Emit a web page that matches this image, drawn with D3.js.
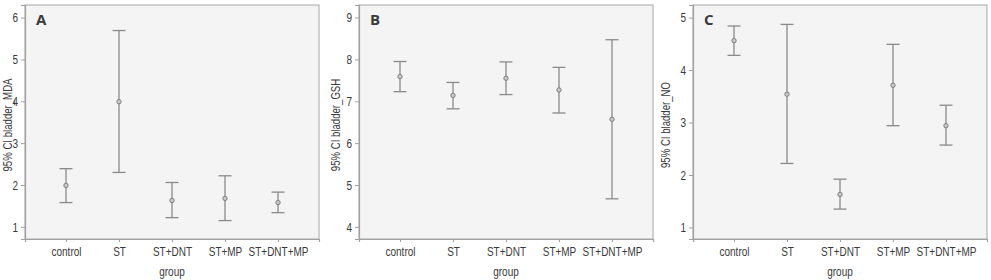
<!DOCTYPE html>
<html><head><meta charset="utf-8">
<script src="https://cdn.jsdelivr.net/npm/d3@7"></script>
<style>
body{margin:0;background:#fff;}
svg{display:block;}
text{font-family:"Liberation Sans",Arial,sans-serif;fill:#3a3a3a;}
</style></head>
<body>
<svg id="c" width="991" height="280"></svg>
<script>
const categories = ["control","ST","ST+DNT","ST+MP","ST+DNT+MP"];

const mdaMean  = [1.99, 3.99, 1.63, 1.68, 1.58];
const mdaLower = [1.58, 2.30, 1.22, 1.15, 1.34];
const mdaUpper = [2.39, 5.69, 2.06, 2.22, 1.83];

const gshMean  = [7.59, 7.14, 7.55, 7.27, 6.57];
const gshLower = [7.23, 6.82, 7.16, 6.72, 4.67];
const gshUpper = [7.95, 7.45, 7.94, 7.81, 8.47];

const noMean   = [4.56, 3.54, 1.63, 3.71, 2.94];
const noLower  = [4.28, 2.22, 1.35, 2.94, 2.57];
const noUpper  = [4.84, 4.87, 1.92, 4.49, 3.33];

const mdaTicks = [1,2,3,4,5,6];
const gshTicks = [4,5,6,7,8,9];
const noTicks  = [1,2,3,4,5];

const panelLetters = ["A","B","C"];
const yLabels = ["95% CI bladder_MDA","95% CI bladder_GSH","95% CI bladder_NO"];
const xLabel = "group";

const panels = [
  {letter:panelLetters[0], ylab:yLabels[0], mean:mdaMean, lo:mdaLower, hi:mdaUpper, ticks:mdaTicks, dom:[0.71,6.30], x0:25, x1:319, ylx:7.5},
  {letter:panelLetters[1], ylab:yLabels[1], mean:gshMean, lo:gshLower, hi:gshUpper, ticks:gshTicks, dom:[3.71,9.30], x0:359, x1:653, ylx:336},
  {letter:panelLetters[2], ylab:yLabels[2], mean:noMean, lo:noLower, hi:noUpper, ticks:noTicks, dom:[0.78,5.24], x0:693, x1:987, ylx:666}
];

const svg = d3.select("#c");
const yTop = 5, yBot = 239;
const barCol = "#8a8a8a";
const FS = 13.5;
const K = 0.74;   // horizontal condensing of the narrow original font
const FF = '"Liberation Sans",Arial,sans-serif';

panels.forEach(p => {
  const g = svg.append("g");
  const x = d3.scalePoint().domain(categories).range([p.x0, p.x1]).padding(0.7736);
  const y = d3.scaleLinear().domain(p.dom).range([yBot, yTop]);

  g.append("rect").attr("x",p.x0).attr("y",yTop).attr("width",p.x1-p.x0).attr("height",yBot-yTop)
    .attr("fill","#f4f4f4").attr("stroke","#b4b4b4").attr("stroke-width",1.2);

  const ya = g.append("g").attr("transform",`translate(${p.x0},0)`)
    .call(d3.axisLeft(y).tickValues(p.ticks).tickFormat(d3.format("d")).tickSize(4).tickPadding(3));
  ya.select(".domain").attr("stroke","#a0a0a0").attr("stroke-width",1.2);
  ya.selectAll(".tick line").attr("stroke","#a0a0a0");
  ya.selectAll(".tick text").attr("font-size",FS).attr("fill","#3a3a3a").style("font-family",FF)
    .attr("x",-7/K).attr("transform",`scale(${K},1)`);

  const xa = g.append("g").attr("transform",`translate(0,${yBot})`)
    .call(d3.axisBottom(x).tickSize(3).tickPadding(4));
  xa.select(".domain").attr("stroke","#a0a0a0").attr("stroke-width",1.2);
  xa.selectAll(".tick line").attr("stroke","#a0a0a0");
  xa.selectAll(".tick text").attr("font-size",FS).attr("fill","#3a3a3a").style("font-family",FF)
    .attr("transform",`scale(${K},1)`);

  g.append("text").attr("transform",`translate(${(p.x0+p.x1)/2},276) scale(${K},1)`).attr("text-anchor","middle")
    .attr("font-size",FS).text(xLabel);

  g.append("text").attr("transform",`translate(${p.ylx},${(yTop+yBot)/2 + 3}) rotate(-90) scale(${K+0.03},1)`)
    .attr("text-anchor","middle").attr("dominant-baseline","central")
    .attr("font-size",12.5).text(p.ylab);

  g.append("text").attr("x",p.x0+11).attr("y",25).attr("font-size",15).attr("font-weight","bold")
    .style("font-family",'"Open Sans","DejaVu Sans",sans-serif').attr("fill","#333").text(p.letter);

  const data = categories.map((c,i)=>({c, m:p.mean[i], lo:p.lo[i], hi:p.hi[i]}));
  const cap = 6.5;
  const eb = g.selectAll(".eb").data(data).enter().append("g");
  eb.append("line").attr("x1",d=>x(d.c)).attr("x2",d=>x(d.c)).attr("y1",d=>y(d.lo)).attr("y2",d=>y(d.hi))
    .attr("stroke",barCol).attr("stroke-width",1.3);
  eb.append("line").attr("x1",d=>x(d.c)-cap).attr("x2",d=>x(d.c)+cap).attr("y1",d=>y(d.hi)).attr("y2",d=>y(d.hi))
    .attr("stroke",barCol).attr("stroke-width",1.3);
  eb.append("line").attr("x1",d=>x(d.c)-cap).attr("x2",d=>x(d.c)+cap).attr("y1",d=>y(d.lo)).attr("y2",d=>y(d.lo))
    .attr("stroke",barCol).attr("stroke-width",1.3);
  eb.append("circle").attr("cx",d=>x(d.c)).attr("cy",d=>y(d.m)).attr("r",2.2)
    .attr("fill","#c8c8c8").attr("stroke","#808080").attr("stroke-width",1);
});
</script>
</body></html>
